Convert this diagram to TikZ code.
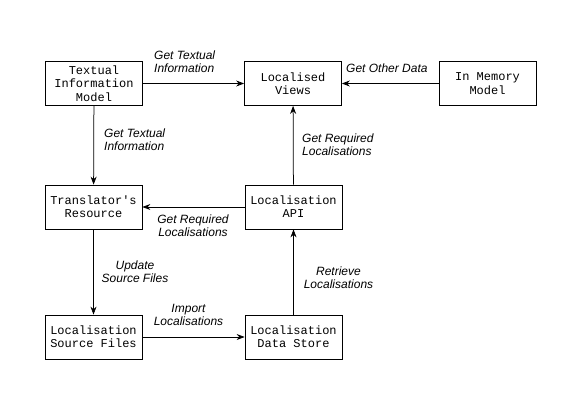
\documentclass[tikz,border=0pt]{standalone}
\usepackage{fontspec}
\newfontfamily\boxfont{Liberation Mono}
\newfontfamily\lblfont{Liberation Sans}
\usetikzlibrary{arrows.meta}
\begin{document}
\begin{tikzpicture}[x=1pt,y=-1pt,
  box/.style={draw,line width=0.75pt,minimum width=97pt,minimum height=44pt,inner sep=0pt,
    align=center,font=\boxfont\fontsize{12}{13.3}\selectfont},
  lbl/.style={inner sep=0pt,font=\lblfont\itshape\fontsize{12}{13}\selectfont},
  conn/.style={line width=0.75pt,-{Stealth[length=8pt,width=6pt]}}]
\fill[white] (0,0) rectangle (567,401);
\useasboundingbox (0,0) rectangle (567,401);
\node[box] (tim) at (94,83.5) {Textual\\Information\\Model};
\node[box] (lv) at (293,83.5) {Localised\\Views};
\node[box] (imm) at (487.5,83.5) {In Memory\\Model};
\node[box] (tr) at (93.5,207) {Translator's\\Resource};
\node[box] (api) at (293.5,207) {Localisation\\API};
\node[box] (lsf) at (93.5,337) {Localisation\\Source Files};
\node[box] (lds) at (293.5,337) {Localisation\\Data Store};
\draw[conn] (tim) -- (lv);
\draw[conn] (imm) -- (lv);
\draw[conn] (tim) -- (tr);
\draw[conn] (api) -- (lv);
\draw[conn] (api) -- (tr);
\draw[conn] (tr) -- (lsf);
\draw[conn] (lsf) -- (lds);
\draw[conn] (lds) -- (api);
\node[lbl,anchor=west,align=left] (l1) at (154,62) {Get Textual\\Information};
\node[lbl,anchor=west] (l2) at (346,68) {Get Other Data};
\node[lbl,anchor=west,align=left] (l3) at (104,140) {Get Textual\\Information};
\node[lbl,anchor=west,align=left] (l4) at (302,144.5) {Get Required\\Localisations};
\node[lbl,align=center] (l5) at (193,226) {Get Required\\Localisations};
\node[lbl,align=center] (l6) at (135,271.5) {Update\\Source Files};
\node[lbl,align=center] (l7) at (188.5,315) {Import\\Localisations};
\node[lbl,align=center] (l8) at (338.5,277.5) {Retrieve\\Localisations};
\end{tikzpicture}
\end{document}
